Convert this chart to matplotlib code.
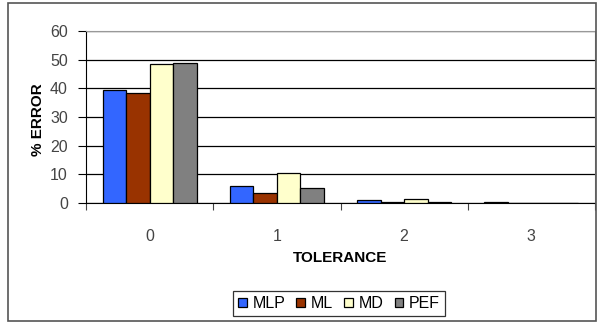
import numpy as np
import matplotlib.pyplot as plt
from matplotlib.patches import Rectangle

plt.rcParams['font.family'] = ['Liberation Sans', 'DejaVu Sans']

tolerance = ['0', '1', '2', '3']
series = ['MLP', 'ML', 'MD', 'PEF']
mlp = [39.5, 5.8, 1.0, 0.3]
ml = [38.5, 3.4, 0.2, 0.0]
md = [48.5, 10.5, 1.5, 0.0]
pef = [49.0, 5.2, 0.3, 0.0]
colors = ['#3366ff', '#993300', '#ffffcc', '#808080']

fig = plt.figure(figsize=(5.97, 3.23), dpi=100)
# outer chart border
fig.patches.append(Rectangle((8/597, 2/323), 588/597, 318/323, transform=fig.transFigure,
                             fill=False, edgecolor='#555555', lw=1.2))

ax = fig.add_axes([86/597, 1 - 203/323, 509/597, 172/323])
x = np.arange(len(tolerance))
w = 0.185
for i, (vals, c, name) in enumerate(zip([mlp, ml, md, pef], colors, series)):
    ax.bar(x + (i - 1.5) * w, vals, w, color=c, edgecolor='black', lw=0.9, label=name, zorder=3)

ax.set_xlim(-0.5, 3.5)
ax.set_ylim(0, 60)
ax.set_yticks(range(0, 61, 10))
ax.grid(axis='y', color='black', lw=0.9, zorder=0)
ax.set_xticks(np.arange(-0.5, 4, 1))
ax.set_xticklabels([])
ax.set_xticks(x, minor=True)
ax.set_xticklabels(tolerance, minor=True)
ax.tick_params(axis='x', which='minor', length=0, pad=19, labelsize=11.5, labelcolor='#444444')
ax.tick_params(axis='x', which='major', length=5, color='#444444')
ax.tick_params(axis='y', length=6, labelsize=11.5, labelcolor='#444444', pad=7)
for s in ['top', 'right']:
    ax.spines[s].set_color('#999999')
for s in ['left', 'bottom']:
    ax.spines[s].set_color('black')

fig.text(340/597, 1 - 257.5/323, 'TOLERANCE', ha='center', va='center', fontsize=11, fontweight='bold')
fig.text(38/597, 1 - 120/323, '% ERROR', ha='center', va='center', rotation=90, fontsize=11, fontweight='bold')

leg = fig.legend(loc='center', bbox_to_anchor=(339/597, 1 - 303.5/323), ncol=4, fontsize=11.5,
                 frameon=True, fancybox=False, edgecolor='black', handlelength=0.55, handleheight=0.55,
                 handletextpad=0.35, columnspacing=0.7, borderpad=0.3, borderaxespad=0)
leg.get_frame().set_linewidth(0.9)

fig.savefig('out.png', dpi=100)
